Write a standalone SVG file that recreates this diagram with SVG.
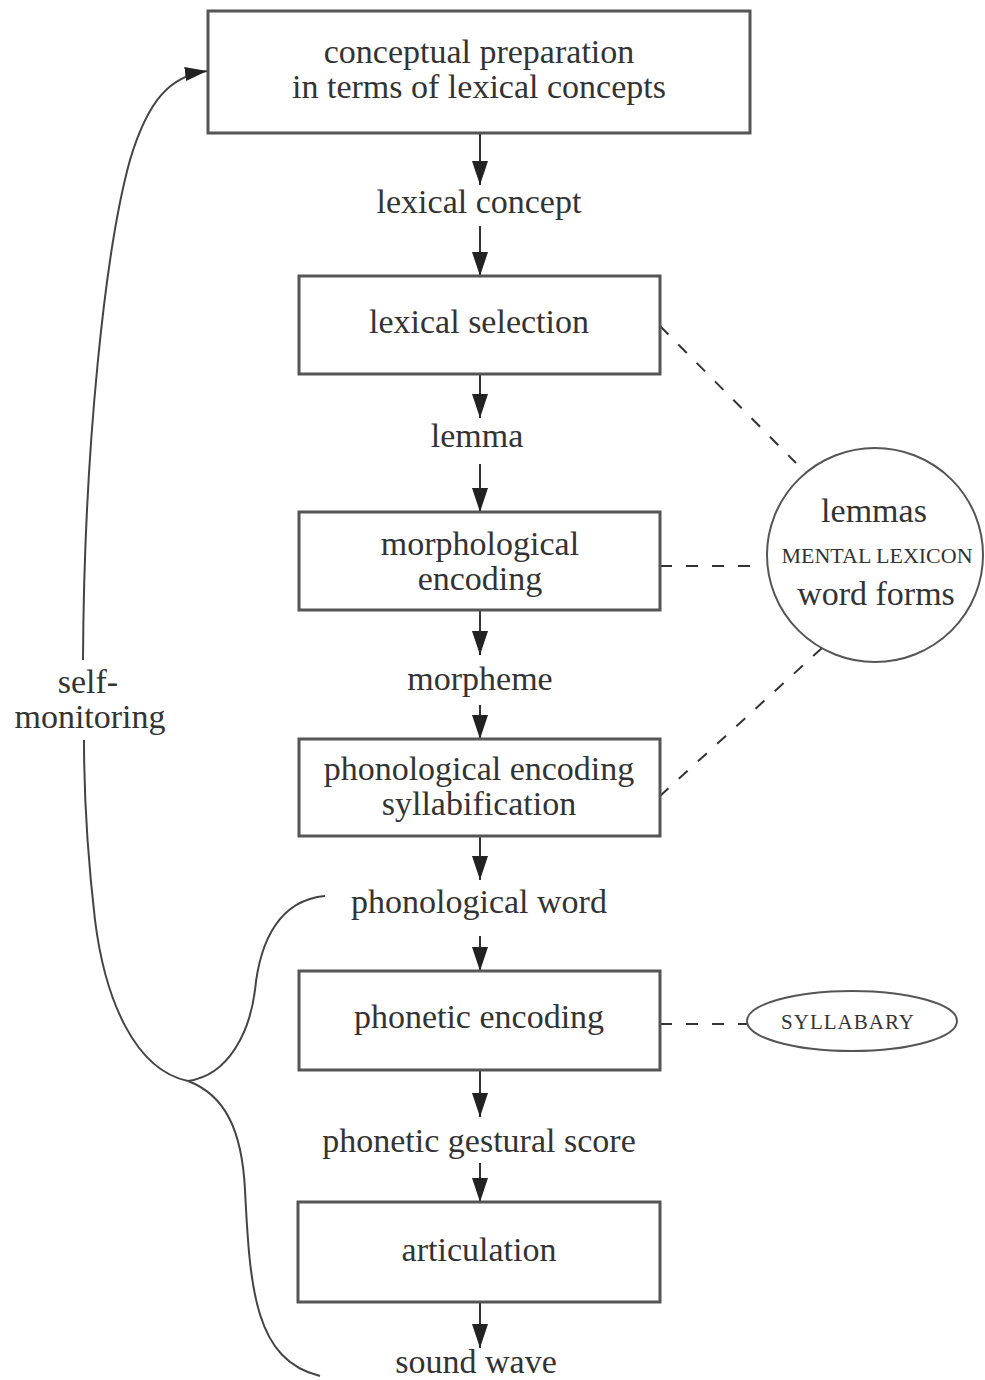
<svg xmlns="http://www.w3.org/2000/svg" width="985" height="1380" viewBox="0 0 985 1380">
<style>
.box{fill:#fff;stroke:#555;stroke-width:3}
.t{font-family:"Liberation Serif","Times New Roman",serif;font-size:34px;fill:#333;text-anchor:middle}
.sc{font-family:"Liberation Serif","Times New Roman",serif;font-size:22px;fill:#333;text-anchor:middle}
.arr{stroke:#333;stroke-width:2;fill:none;marker-end:url(#ah)}
.dash{stroke:#333;stroke-width:2;fill:none;stroke-dasharray:12 14}
.curve{stroke:#444;stroke-width:2;fill:none}
.ell{fill:#fff;stroke:#555;stroke-width:2}
</style>
<defs>
<marker id="ah" viewBox="0 0 24 16" refX="24" refY="8" markerWidth="24" markerHeight="16" orient="auto" markerUnits="userSpaceOnUse">
<path d="M0,0 L24,8 L0,16 z" fill="#222"/>
</marker>
<marker id="ah2" viewBox="0 0 22 14" refX="22" refY="7" markerWidth="22" markerHeight="14" orient="auto" markerUnits="userSpaceOnUse">
<path d="M0,0 L22,7 L0,14 z" fill="#222"/>
</marker>
</defs>
<rect width="985" height="1380" fill="#fff"/>
<g id="connectors">
<line class="arr" x1="480" y1="133" x2="480" y2="185"/>
<line class="arr" x1="480" y1="226" x2="480" y2="276"/>
<line class="arr" x1="480" y1="374" x2="480" y2="418"/>
<line class="arr" x1="480" y1="464" x2="480" y2="512"/>
<line class="arr" x1="480" y1="610" x2="480" y2="655"/>
<line class="arr" x1="480" y1="705" x2="480" y2="739"/>
<line class="arr" x1="480" y1="836" x2="480" y2="880"/>
<line class="arr" x1="480" y1="936" x2="480" y2="971"/>
<line class="arr" x1="480" y1="1070" x2="480" y2="1117"/>
<line class="arr" x1="480" y1="1163" x2="480" y2="1202"/>
<line class="arr" x1="480" y1="1302" x2="480" y2="1348"/>
<line class="dash" x1="660" y1="326" x2="796" y2="463"/>
<line class="dash" x1="660" y1="566" x2="764" y2="566"/>
<line class="dash" x1="822" y1="648" x2="660" y2="796"/>
<line class="dash" x1="660" y1="1024" x2="747" y2="1024"/>
<path class="curve" style="marker-end:url(#ah2)" d="M188,1081 C135,1070 105,1000 95,920 C88,860 84,800 84,740 M83,660 C84,450 105,250 130,160 C148,100 170,76 207,71"/>
<path class="curve" d="M188,1081 C230,1075 250,1030 255,990 C260,940 280,900 325,896"/>
<path class="curve" d="M188,1081 C225,1095 242,1130 245,1190 C250,1290 255,1360 320,1376"/>
</g>
<g id="conceptual-preparation">
<rect class="box" x="208" y="11" width="542" height="122"/>
<text class="t" x="479" y="63">conceptual preparation</text>
<text class="t" x="479" y="98">in terms of lexical concepts</text>
</g>
<g id="lexical-concept"><text class="t" x="479" y="213">lexical concept</text></g>
<g id="lexical-selection">
<rect class="box" x="299" y="276" width="361" height="98"/>
<text class="t" x="479" y="333">lexical selection</text>
</g>
<g id="lemma"><text class="t" x="477" y="447">lemma</text></g>
<g id="morphological-encoding">
<rect class="box" x="299" y="512" width="361" height="98"/>
<text class="t" x="480" y="555">morphological</text>
<text class="t" x="480" y="590">encoding</text>
</g>
<g id="morpheme"><text class="t" x="480" y="690">morpheme</text></g>
<g id="phonological-encoding">
<rect class="box" x="299" y="739" width="361" height="97"/>
<text class="t" x="479" y="780">phonological encoding</text>
<text class="t" x="479" y="815">syllabification</text>
</g>
<g id="phonological-word"><text class="t" x="479" y="913">phonological word</text></g>
<g id="phonetic-encoding">
<rect class="box" x="299" y="971" width="361" height="99"/>
<text class="t" x="479" y="1028">phonetic encoding</text>
</g>
<g id="phonetic-gestural-score"><text class="t" x="479" y="1152">phonetic gestural score</text></g>
<g id="articulation">
<rect class="box" x="298" y="1202" width="362" height="100"/>
<text class="t" x="479" y="1261">articulation</text>
</g>
<g id="sound-wave"><text class="t" x="476" y="1373">sound wave</text></g>
<g id="mental-lexicon">
<ellipse class="ell" cx="875" cy="555" rx="108" ry="107"/>
<text class="t" x="874" y="522">lemmas</text>
<text class="sc" x="877" y="563">MENTAL LEXICON</text>
<text class="t" x="876" y="605">word forms</text>
</g>
<g id="syllabary">
<ellipse class="ell" cx="852" cy="1021" rx="105" ry="30"/>
<text class="sc" x="848" y="1029" style="letter-spacing:1px;font-size:21px">SYLLABARY</text>
</g>
<g id="self-monitoring">
<text class="t" x="88" y="693">self-</text>
<text class="t" x="90" y="728">monitoring</text>
</g>
</svg>
